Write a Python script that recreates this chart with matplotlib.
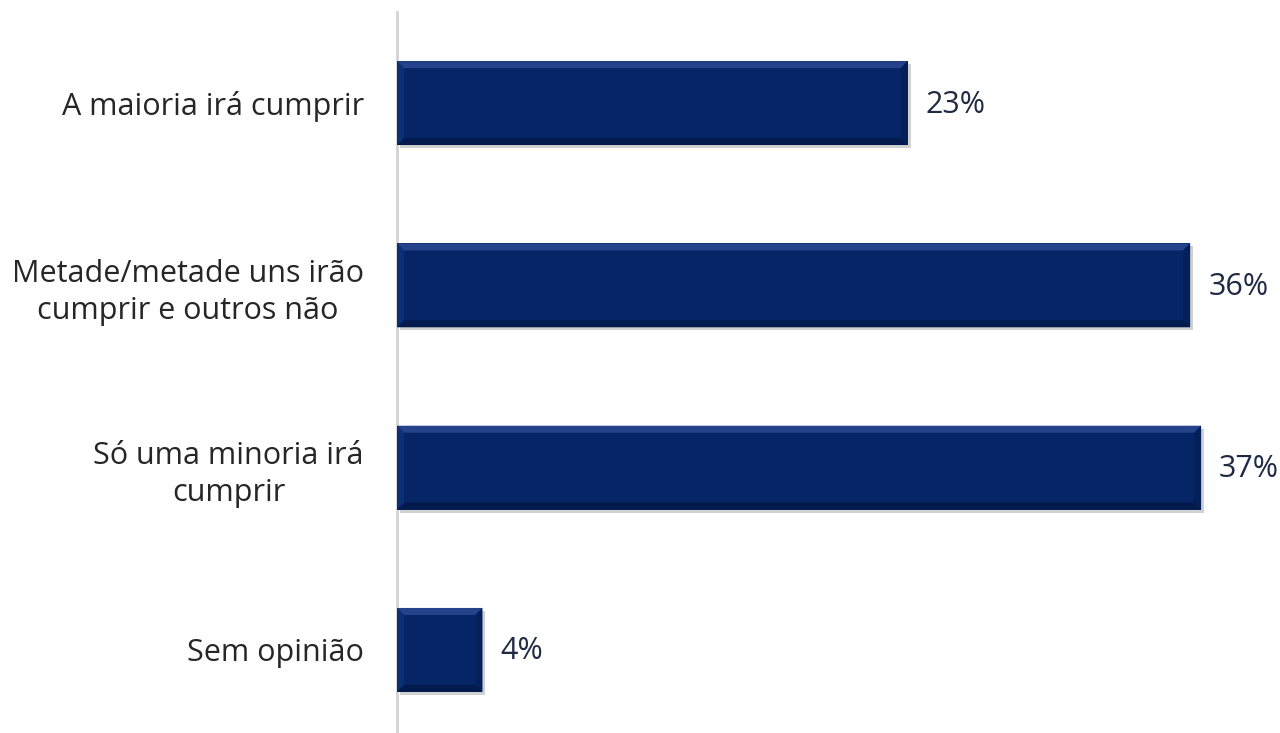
import numpy as np
import matplotlib
matplotlib.use('Agg')
import matplotlib.pyplot as plt
from matplotlib.patches import Polygon

categories = ['A maioria irá cumprir',
              'Metade/metade uns irão\ncumprir e outros não',
              'Só uma minoria irá\ncumprir',
              'Sem opinião']
values = [23.3, 36.2, 36.7, 3.9]
labels = ['23%', '36%', '37%', '4%']

plt.rcParams['font.family'] = ['Open Sans', 'DejaVu Sans']

W, H, DPI = 12.8, 7.33, 100
fig = plt.figure(figsize=(W, H), dpi=DPI)
fig.patch.set_facecolor('white')

ax_left, ax_right = 397 / 1280, 1.0
ax_top, ax_bot = 1 - 12 / 733, 1 - 741 / 733
ax = fig.add_axes([ax_left, ax_bot, ax_right - ax_left, ax_top - ax_bot])
ax.set_facecolor('none')

xmax = 40.3
ax.set_xlim(0, xmax)
ax.set_ylim(len(values) - 0.5, -0.5)

# pixel -> data conversions for the bevel
px_x = (ax_right - ax_left) * W * DPI / xmax
px_y = (ax_top - ax_bot) * H * DPI / len(values)

bar_h = 0.46
y = np.arange(len(values))
main_col = '#062566'
bars = ax.barh(y, values, height=bar_h, color=main_col, zorder=3)

bev = 7
dx, dy = bev / px_x, bev / px_y
sx, sy = 3 / px_x, 3 / px_y
for b in bars:
    x0, yc, w, h = b.get_x(), b.get_y(), b.get_width(), b.get_height()
    top, bot = yc, yc + h
    x1 = x0 + w
    # shadow
    ax.add_patch(plt.Rectangle((x0 + sx, top + sy), w, h, color='#9a9a9a', alpha=0.45, zorder=2, lw=0))
    # top bevel (light)
    ax.add_patch(Polygon([(x0, top), (x1, top), (x1 - dx, top + dy), (x0 + dx, top + dy)],
                         closed=True, color='#24438a', lw=0, zorder=4))
    # bottom bevel (dark)
    ax.add_patch(Polygon([(x0, bot), (x1, bot), (x1 - dx, bot - dy), (x0 + dx, bot - dy)],
                         closed=True, color='#031a4d', lw=0, zorder=4))
    # left bevel
    ax.add_patch(Polygon([(x0, top), (x0 + dx, top + dy), (x0 + dx, bot - dy), (x0, bot)],
                         closed=True, color='#0d2f76', lw=0, zorder=4))
    # right bevel
    ax.add_patch(Polygon([(x1, top), (x1 - dx, top + dy), (x1 - dx, bot - dy), (x1, bot)],
                         closed=True, color='#04205a', lw=0, zorder=4))

for yi, v, lab in zip(y, values, labels):
    ax.annotate(lab, (v, yi), xytext=(13, -1), textcoords='offset points',
                va='center', ha='left', fontsize=22, color='#1f2a44')

ax.set_yticks(y)
ax.set_yticklabels(categories, fontsize=22, color='#262626', linespacing=1.3,
                   multialignment='center')
ax.tick_params(axis='y', length=0, pad=24)
ax.set_xticks([])

for s in ['top', 'right', 'bottom']:
    ax.spines[s].set_visible(False)
ax.spines['left'].set_color('#d4d4d4')
ax.spines['left'].set_linewidth(2)

fig.savefig('out.png', dpi=DPI)
